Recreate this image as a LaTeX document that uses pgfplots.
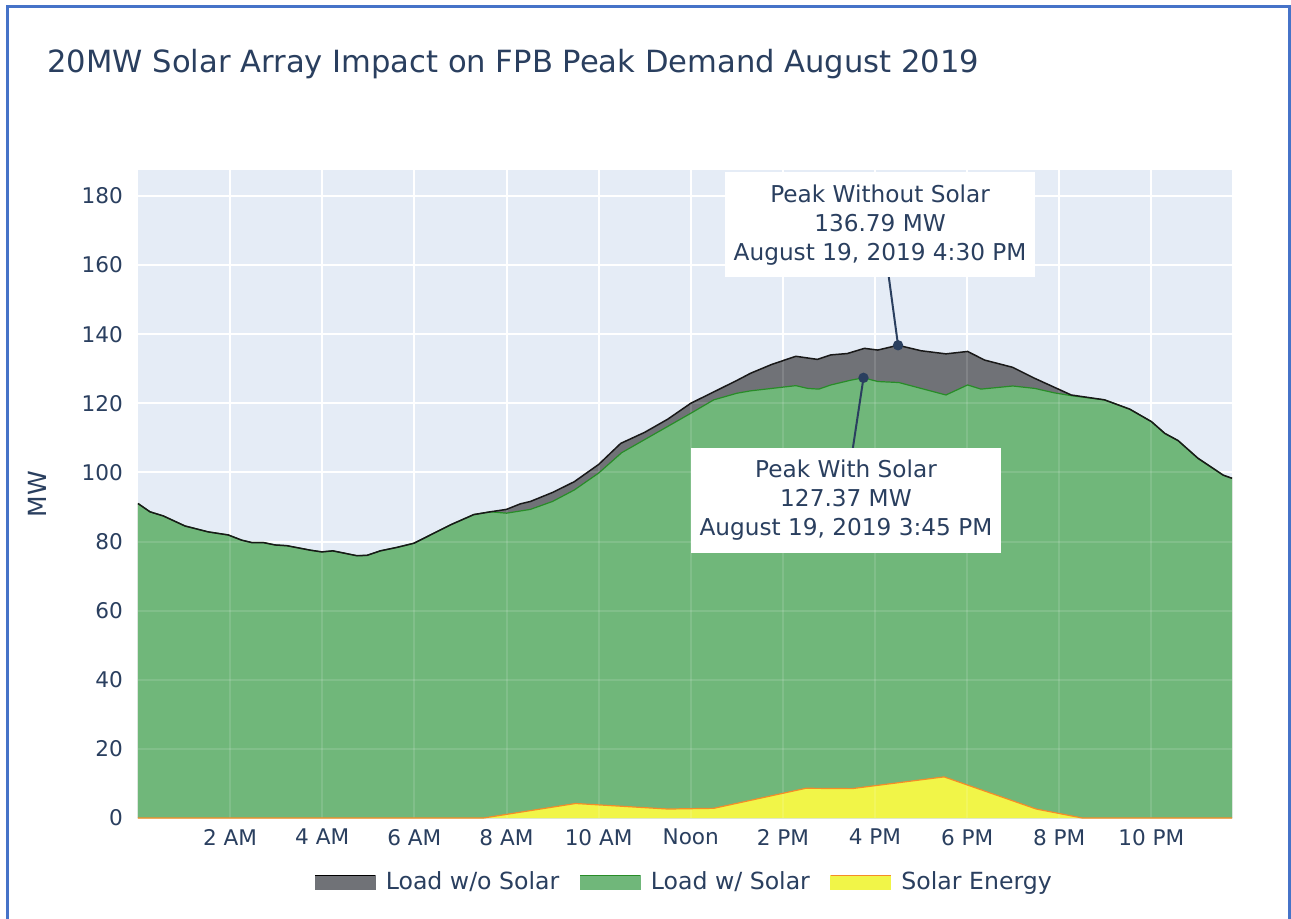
\documentclass[border=0pt]{standalone}
\usepackage{fontspec}
\setmainfont{DejaVu Sans}
\usepackage{pgfplots}
\pgfplotsset{compat=1.18}
\usepackage{pgfplotstable}

\definecolor{plotbg}{RGB}{229,236,246}
\definecolor{navy}{RGB}{42,63,95}
\definecolor{grayfill}{RGB}{112,114,119}
\definecolor{greenfill}{RGB}{112,183,122}
\definecolor{greenline}{RGB}{40,140,40}
\definecolor{yellowfill}{RGB}{241,245,72}
\definecolor{orangeline}{RGB}{245,140,40}
\definecolor{frameblue}{RGB}{70,115,200}

% load without solar (MW), hour of day
\pgfplotstableread{
h mw
0.00 91.0
0.26 88.6
0.55 87.4
1.02 84.5
1.52 82.8
1.96 81.9
2.25 80.4
2.47 79.7
2.72 79.7
2.98 79.0
3.23 78.8
3.74 77.5
3.99 77.0
4.23 77.3
4.75 75.9
4.97 76.0
5.26 77.3
5.62 78.3
5.99 79.5
6.78 84.8
7.29 87.8
7.65 88.6
8.00 89.3
8.30 90.9
8.52 91.6
9.00 94.2
9.47 97.3
10.00 102.3
10.48 108.4
11.00 111.6
11.50 115.4
12.00 120.0
12.50 123.3
13.00 126.6
13.30 128.7
13.75 131.2
14.28 133.6
14.75 132.7
15.04 134.0
15.40 134.4
15.77 135.9
16.06 135.4
16.50 136.79
17.00 135.2
17.54 134.3
18.01 135.0
18.38 132.5
18.99 130.4
19.47 127.2
20.26 122.4
20.98 121.0
21.53 118.3
22.00 114.7
22.29 111.3
22.58 109.2
23.01 104.1
23.56 99.2
23.75 98.3
}\nosolar

% load with solar
\pgfplotstableread{
h mw
0.00 91.0
0.26 88.6
0.55 87.4
1.02 84.5
1.52 82.8
1.96 81.9
2.25 80.4
2.47 79.7
2.72 79.7
2.98 79.0
3.23 78.8
3.74 77.5
3.99 77.0
4.23 77.3
4.75 75.9
4.97 76.0
5.26 77.3
5.62 78.3
5.99 79.5
6.78 84.8
7.29 87.8
7.65 88.6
8.00 88.2
8.52 89.3
9.00 91.6
9.47 94.9
10.00 99.8
10.50 105.7
11.00 109.5
11.50 113.3
12.00 117.1
12.50 121.0
13.00 122.9
13.30 123.6
14.28 125.1
14.54 124.3
14.78 124.1
15.04 125.3
15.48 126.7
15.75 127.37
16.06 126.3
16.52 126.0
17.00 124.3
17.54 122.4
18.01 125.3
18.30 124.1
18.99 125.0
19.47 124.3
19.90 123.0
20.26 122.2
20.98 121.0
21.53 118.3
22.00 114.7
22.29 111.3
22.58 109.2
23.01 104.1
23.56 99.2
23.75 98.3
}\withsolar

% solar output
\pgfplotstableread{
h mw
0.00 0
7.50 0
9.50 4.2
11.50 2.6
12.50 2.8
14.50 8.6
15.50 8.5
17.50 11.9
19.50 2.6
20.50 0
23.75 0
}\solar

\begin{document}
\begin{tikzpicture}
\path[use as bounding box, fill=white] (-69pt,-50pt) rectangle (576.5pt,409pt);
\draw[frameblue, line width=1.5pt] (-65pt,-51pt) -- (-65pt,405.5pt) -- (575.5pt,405.5pt) -- (575.5pt,-51pt);
\node[anchor=base west, inner sep=0pt, text=navy, font=\fontsize{15.3}{18}\selectfont] at (-45.5pt,373pt)
  {20MW Solar Array Impact on FPB Peak Demand August 2019};

\begin{axis}[
  at={(0,0)}, anchor=south west,
  scale only axis, width=547pt, height=324pt,
  xmin=0, xmax=23.75, ymin=0, ymax=187.5,
  clip=false,
  axis background/.style={fill=plotbg},
  axis line style={draw=none},
  tick style={draw=none},
  grid=major,
  major grid style={white, line width=1pt},
  xtick={2,4,...,22},
  xticklabels={2 AM,4 AM,6 AM,8 AM,10 AM,Noon,2 PM,4 PM,6 PM,8 PM,10 PM},
  ytick={0,20,...,180},
  ticklabel style={font=\fontsize{10.8}{12}\selectfont, text=navy},
  /pgf/number format/assume math mode=true,
  yticklabel style={xshift=-4pt},
  xticklabel style={yshift=-2pt},
  ylabel={MW},
  ylabel style={at={(axis description cs:0,0.5)}, anchor=center, yshift=50.5pt,
    font=\fontsize{12.5}{14}\selectfont, text=navy},
  legend style={at={(axis description cs:0.5,-0.099)}, anchor=center,
    draw=none, fill=none, legend columns=3,
    font=\fontsize{11.8}{13}\selectfont, text=navy,
    /tikz/every odd column/.append style={column sep=3pt},
    /tikz/every even column/.append style={column sep=8pt}},
  legend cell align=left,
]
\addplot[draw=none, fill=grayfill, forget plot] table[x=h,y=mw] {\nosolar} \closedcycle;
\addplot[draw=none, fill=greenfill, forget plot] table[x=h,y=mw] {\withsolar} \closedcycle;
\addplot[draw=none, fill=yellowfill, forget plot] table[x=h,y=mw] {\solar} \closedcycle;

\pgfplotsinvokeforeach{2,4,...,22}{
  \draw[white, opacity=0.12, line width=1pt] (axis cs:#1,0) -- (axis cs:#1,187.5);
}
\pgfplotsinvokeforeach{20,40,...,180}{
  \draw[white, opacity=0.12, line width=1pt] (axis cs:0,#1) -- (axis cs:23.75,#1);
}

\addplot[greenline, line width=0.6pt, forget plot] table[x=h,y=mw] {\withsolar};
\addplot[orangeline, line width=0.6pt, forget plot] table[x=h,y=mw] {\solar};
\addplot[black!90, line width=0.75pt, forget plot] table[x=h,y=mw] {\nosolar};

\draw[navy, line width=1pt] (axis cs:16.5,136.79) -- (axis cs:16.30,156.5);
\fill[navy] (axis cs:16.5,136.79) circle[radius=2.6pt];
\draw[navy, line width=1pt] (axis cs:15.75,127.37) -- (axis cs:15.52,107.1);
\fill[navy] (axis cs:15.75,127.37) circle[radius=2.6pt];

\node[fill=white, align=center, text=navy, font=\fontsize{11.6}{14.5}\selectfont,
  minimum width=155pt, minimum height=52.5pt, inner sep=0pt]
  at (axis cs:16.11,171.7) {Peak Without Solar\\136.79 MW\\August 19, 2019 4:30 PM};
\node[fill=white, align=center, text=navy, font=\fontsize{11.6}{14.5}\selectfont,
  minimum width=155pt, minimum height=52.5pt, inner sep=0pt]
  at (axis cs:15.37,92.0) {Peak With Solar\\127.37 MW\\August 19, 2019 3:45 PM};

\addlegendimage{legend image code/.code={
  \fill[grayfill] (0pt,-3.5pt) rectangle (30pt,3.5pt);
  \draw[black, line width=0.8pt] (0pt,3.3pt) -- (30pt,3.3pt);}}
\addlegendentry{Load w/o Solar}
\addlegendimage{legend image code/.code={
  \fill[greenfill] (0pt,-3.5pt) rectangle (30pt,3.5pt);
  \draw[greenline, line width=0.8pt] (0pt,3.3pt) -- (30pt,3.3pt);}}
\addlegendentry{Load w/ Solar}
\addlegendimage{legend image code/.code={
  \fill[yellowfill] (0pt,-3.5pt) rectangle (30pt,3.5pt);
  \draw[orangeline, line width=0.8pt] (0pt,3.3pt) -- (30pt,3.3pt);}}
\addlegendentry{Solar Energy}
\end{axis}
\end{tikzpicture}
\end{document}
